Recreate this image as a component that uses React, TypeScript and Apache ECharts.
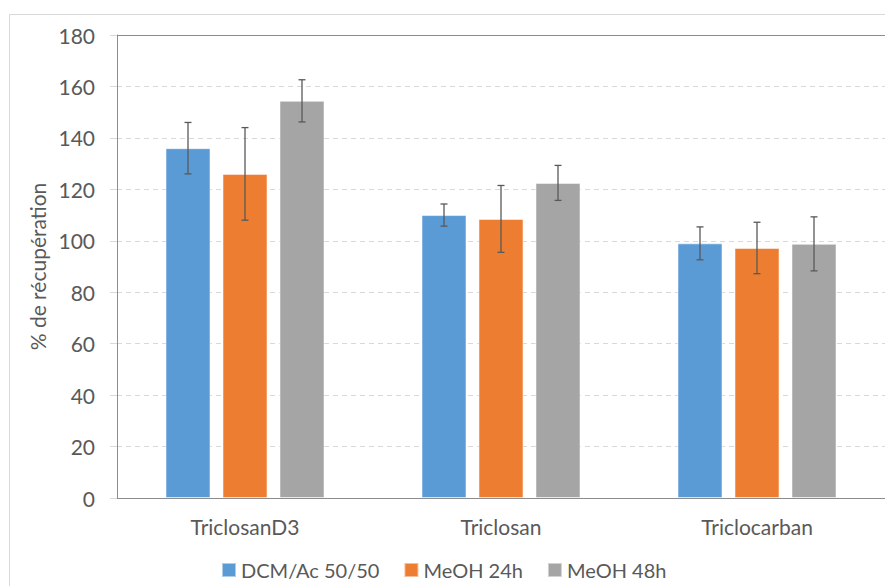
import React, { useEffect, useRef } from "react";
import * as echarts from "echarts";

const categories = ["TriclosanD3", "Triclosan", "Triclocarban"];
const seriesNames = ["DCM/Ac 50/50", "MeOH 24h", "MeOH 48h"];
const dcmValues = [136, 110, 99];
const meoh24Values = [126, 108.5, 97.2];
const meoh48Values = [154.4, 122.5, 98.8];
const dcmErrors = [10, 4.3, 6.4];
const meoh24Errors = [18, 13, 10];
const meoh48Errors = [8.2, 6.8, 10.5];
const yTicks = [0, 20, 40, 60, 80, 100, 120, 140, 160, 180];

const colors = ["#5B9BD5", "#ED7D31", "#A5A5A5"];
const FONT = "Lato";
const FS = 21;

export default function App() {
  const ref = useRef<HTMLDivElement>(null);
  useEffect(() => {
    if (!ref.current) return;
    const chart = echarts.init(ref.current, undefined, { renderer: "svg" });
    const values = [dcmValues, meoh24Values, meoh48Values];
    const errors = [dcmErrors, meoh24Errors, meoh48Errors];
    const barWidth = 45;
    const gap = 12;

    const barSeries = seriesNames.map((name, i) => ({
      name,
      type: "bar",
      data: values[i],
      barWidth,
      barGap: (gap / barWidth) * 100 + "%",
      itemStyle: { color: colors[i], borderColor: "rgba(255,255,255,0.5)", borderWidth: 1 },
      z: 2,
    }));

    const errorSeries = seriesNames.map((name, i) => ({
      name: name + "-err",
      type: "custom",
      z: 5,
      data: values[i].map((v, k) => [k, v - errors[i][k], v + errors[i][k]]),
      renderItem: (params: any, api: any) => {
        const k = api.value(0);
        const lo = api.coord([k, api.value(1)]);
        const hi = api.coord([k, api.value(2)]);
        const x = lo[0] + (i - 1) * (barWidth + gap);
        const cap = 3.5;
        const style = { stroke: "#595959", lineWidth: 1.3 };
        return {
          type: "group",
          children: [
            { type: "line", shape: { x1: x, y1: hi[1], x2: x, y2: lo[1] }, style },
            { type: "line", shape: { x1: x - cap, y1: hi[1], x2: x + cap, y2: hi[1] }, style },
            { type: "line", shape: { x1: x - cap, y1: lo[1], x2: x + cap, y2: lo[1] }, style },
          ],
        };
      },
      encode: { x: 0, y: [1, 2] },
      silent: true,
    }));

    chart.setOption({
      animation: false,
      textStyle: { fontFamily: FONT },
      graphic: [
        {
          type: "rect",
          shape: { x: 9.5, y: 14.5, width: 900, height: 600 },
          style: { fill: "none", stroke: "#D9D9D9", lineWidth: 1 },
          silent: true,
        },
      ],
      legend: {
        data: seriesNames,
        top: 555,
        left: 216,
        itemWidth: 14,
        itemHeight: 14,
        itemGap: 24,
        icon: "rect",
        textStyle: { fontSize: 20, color: "#595959", fontFamily: FONT },
      },
      grid: { left: 117, right: -2, top: 35, bottom: 88, containLabel: false },
      xAxis: {
        type: "category",
        data: categories,
        axisLine: { lineStyle: { color: "#8C8C8C", width: 1 } },
        axisTick: { show: false },
        axisLabel: { fontSize: FS, color: "#595959", margin: 18, fontFamily: FONT },
      },
      yAxis: {
        type: "value",
        min: yTicks[0],
        max: yTicks[yTicks.length - 1],
        interval: 20,
        name: "% de récupération",
        nameLocation: "middle",
        nameGap: 68,
        nameTextStyle: { fontSize: FS, color: "#595959", fontFamily: FONT },
        axisLine: { show: true, lineStyle: { color: "#8C8C8C", width: 1 } },
        axisTick: { show: true, inside: false, length: 7, lineStyle: { color: "#D9D9D9" } },
        axisLabel: { fontSize: FS, color: "#595959", margin: 22, fontFamily: FONT },
        splitLine: { show: true, lineStyle: { color: "#D9D9D9", type: [5, 4] } },
      },
      series: [
        ...barSeries,
        ...errorSeries,
        {
          type: "line",
          data: [],
          markLine: {
            silent: true,
            symbol: "none",
            label: { show: false },
            lineStyle: { color: "#8C8C8C", type: "solid", width: 1 },
            data: [{ yAxis: 180 }],
          },
        },
      ],
    });
    return () => chart.dispose();
  }, []);
  return <div ref={ref} style={{ width: 885, height: 586, position: "absolute", left: 0, top: 0 }} />;
}
